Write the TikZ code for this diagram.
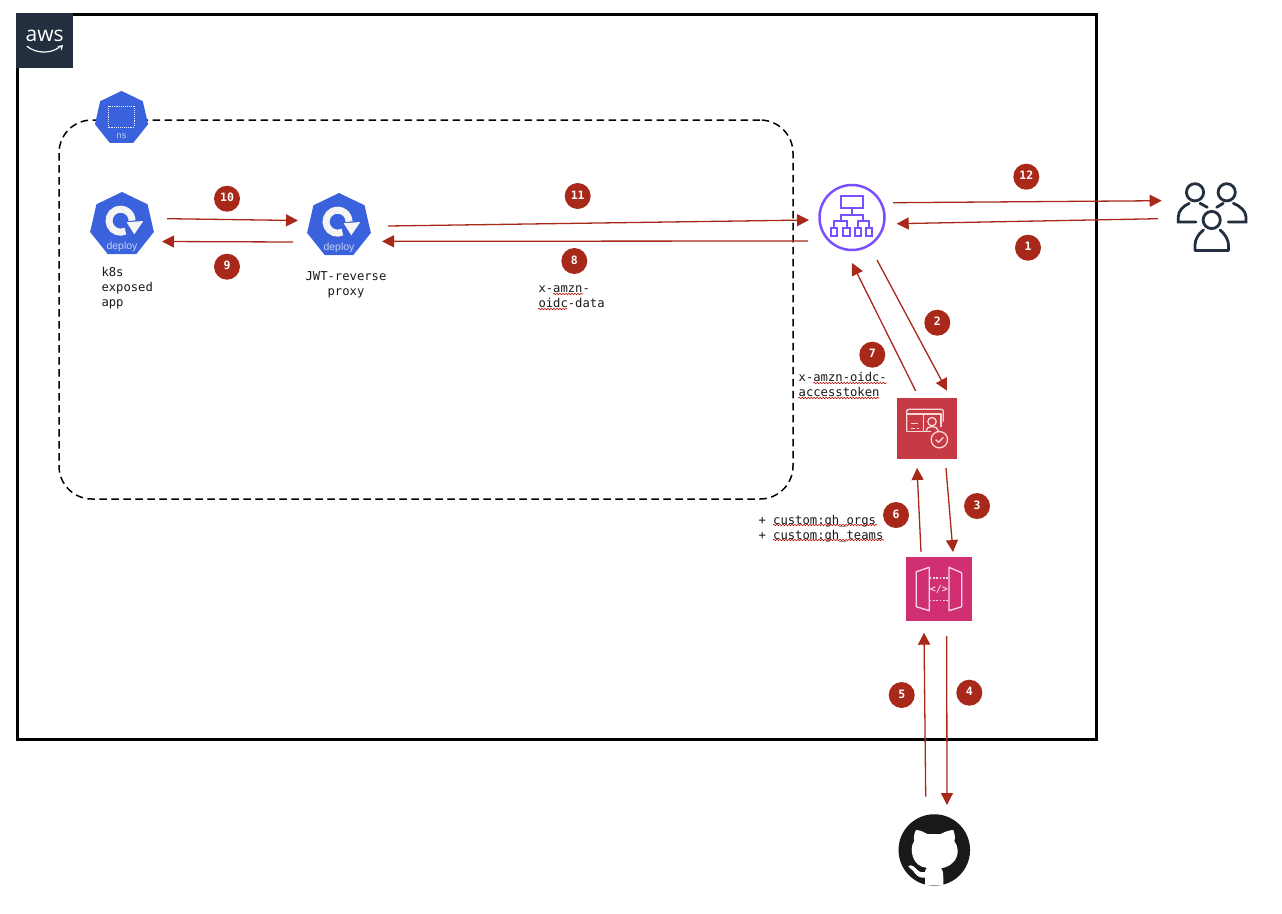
\documentclass[tikz,border=0pt]{standalone}
\usepackage{fontspec}
\setmainfont{Liberation Sans}
\newfontfamily\codefont{DejaVu Sans Mono}
\newfontfamily\logofont{Open Sans}
\usetikzlibrary{arrows.meta,shapes.geometric,decorations.pathmorphing,calc}
\definecolor{flowred}{HTML}{A8281A}
\definecolor{awsdark}{HTML}{232F3E}
\definecolor{k8sblue}{HTML}{3A62DC}
\definecolor{albviolet}{HTML}{7A4FFF}
\definecolor{cogred}{HTML}{C63B43}
\definecolor{cogline}{HTML}{F6D8DA}
\definecolor{apipink}{HTML}{D03072}
\definecolor{apiline}{HTML}{FAD6E8}
\tikzset{
  x=1pt,y=-1pt,
  flow/.style={draw=flowred,line width=1.3pt,-{Triangle[length=12pt,width=12pt]}},
  badge/.style={circle,fill=flowred,minimum size=26pt,inner sep=0pt,text=white,text depth=2pt,font=\codefont\bfseries\fontsize{11.5}{12}\selectfont},
  code/.style={font=\codefont\fontsize{12.2}{15}\selectfont,inner sep=0pt,text=black!90},
  spell/.style={draw=red!75!black,line width=.6pt,decorate,decoration={snake,segment length=3pt,amplitude=.7pt}},
  hept/.style={regular polygon,regular polygon sides=7,fill=k8sblue,inner sep=0pt,outer sep=0pt,draw=none},
  tile/.style={rectangle,inner sep=0pt,outer sep=0pt,draw=none},
  iconline/.style={line width=1.3pt,line join=round},
  usr/.style={draw=awsdark,line width=2.8pt,line cap=round,fill=none},
}
\begin{document}
\begin{tikzpicture}
\useasboundingbox (0,0) rectangle (1282,913);
\fill[white] (0,0) rectangle (1282,913);

% AWS frame
\node[draw=black,line width=3pt,rectangle,inner sep=0pt,minimum width=1079pt,minimum height=725pt] (cloud) at (557,376.9) {};
\node[tile,fill=awsdark,minimum width=57pt,minimum height=55pt] (awstile) at (44.5,40.5) {};
\node[text=white,inner sep=0pt,font=\logofont\fontsize{21}{21}\selectfont] (awslabel) at (44.7,36) {aws};
\draw[white,line width=1.2pt,line cap=round] (27,46.3) .. controls (36,53.5) and (50,54) .. (59,47.5);
\fill[white] (57,46.3) -- (63,45) -- (61.5,50.5) -- (60.5,47.2) -- cycle;

% Namespace
\node[draw=black,line width=1.5pt,dash pattern=on 7.5pt off 4.5pt,rectangle,rounded corners=33pt,inner sep=0pt,minimum width=734pt,minimum height=379pt] (nsbox) at (426,309.5) {};
\node[hept,minimum size=54.5pt] (nsicon) at (121.5,118.2) {};
\draw[white!90!k8sblue,line width=.9pt,densely dotted] (108.7,106) rectangle (134.3,127);
\node[text=white!70!k8sblue,inner sep=0pt,font=\fontsize{9}{9}\selectfont] (nslabel) at (121.5,136) {ns};

% Deployments
\node[hept,minimum size=65.4pt] (app) at (122,224.7) {};
\node[hept,minimum size=65.4pt] (proxy) at (339,225.7) {};
\foreach \n in {app,proxy}{
  \draw[white!91!gray,line width=7pt] ($(\n)+(3.4,6.4)$) arc[start angle=-65,end angle=-360,radius=11.5pt];
  \fill[white!91!gray] ($(\n)+(4.7,-2.4)$) -- ($(\n)+(21.3,-3.7)$) -- ($(\n)+(12.3,9.6)$) -- cycle;
  \node[text=white!72!k8sblue,inner sep=0pt,font=\fontsize{10.4}{11}\selectfont] at ($(\n)+(0,22)$) {deploy};
}
\node[code,align=left,anchor=north west] (applabel) at (101.3,267.3) {k8s\\exposed\\app};
\node[code,align=center,anchor=north] (proxylabel) at (346,271.5) {JWT-reverse\\proxy};

% ALB
\node[circle,draw=albviolet,line width=2.5pt,minimum size=65pt,inner sep=0pt] (alb) at (852,217.5) {};
\begin{scope}[draw=albviolet,line width=2.2pt]
  \draw (840.7,195.7) rectangle (863.3,208.3);
  \draw (852,208.3) -- (852,215);
  \draw (840.7,221) -- (840.7,215) -- (863.3,215) -- (863.3,221);
  \draw (834,228.3) -- (834,221) -- (846.7,221) -- (846.7,228.3);
  \draw (858,228.3) -- (858,221) -- (869,221) -- (869,228.3);
  \draw (830.7,228.3) rectangle (837.3,236);
  \draw (843.3,228.3) rectangle (850,236);
  \draw (855,228.3) rectangle (861.3,236);
  \draw (865.7,228.3) rectangle (872.3,236);
\end{scope}

% Cognito
\node[tile,fill=cogred,minimum width=60pt,minimum height=61pt] (cognito) at (927,428.4) {};
\begin{scope}[shift={(890,390)},x=.3333pt,y=-.3333pt,draw=cogline]
  \draw[iconline,rounded corners=2pt] (50,125) -- (50,58) -- (160,58) -- (160,95);
  \draw[iconline] (50,125) -- (122,125);
  \draw[iconline] (50,72) -- (100,72);
  \draw[iconline] (100,125) -- (100,72) -- (153,72) -- (153,110);
  \draw[iconline] (62,100) -- (85,100) (62,116) -- (75,116) (80,116) -- (86,116);
  \draw[iconline] (126,95) circle[radius=4.2pt];
  \draw[iconline] (108,123) .. controls (108,105) and (145,105) .. (145,123);
  \draw[iconline,fill=cogred] (148,149) circle[radius=8.2pt];
  \draw[iconline] (137,149) -- (146,157) -- (160,142);
\end{scope}

% API Gateway
\node[tile,fill=apipink,minimum width=66pt,minimum height=64pt] (apigw) at (939,589) {};
\draw[apiline,iconline] (916.3,571.7) -- (929.3,567.3) -- (929.3,610.7) -- (916.3,606.7) -- cycle;
\draw[apiline,iconline] (949,567.3) -- (961.7,572.7) -- (961.7,606.7) -- (949,610.7) -- cycle;
\draw[apiline,line width=1.3pt,dash pattern=on 1.8pt off 1.6pt] (929.3,578) -- (949,578) (929.3,600.7) -- (949,600.7);
\node[text=apiline,inner sep=0pt,font=\codefont\fontsize{10}{10}\selectfont\bfseries] (apicode) at (938.8,589) {</>};

% Users
\draw[usr] (1195,192.3) circle[radius=8.6pt];
\draw[usr] (1226.7,192.3) circle[radius=8.6pt];
\draw[usr] (1211.7,220) circle[radius=8.6pt];
\draw[usr] (1189.3,203.3) .. controls (1183,206) and (1178.3,211) .. (1178.3,217) -- (1178.3,222) -- (1196,222);
\draw[usr] (1200,203.3) -- (1207.3,207.3);
\draw[usr] (1223.3,203.3) -- (1216.7,207.3);
\draw[usr] (1233.3,203.3) .. controls (1240,206) and (1246,211) .. (1246,217) -- (1246,222) -- (1228.3,222);
\draw[usr,line join=round] (1203.5,230) .. controls (1198,234) and (1195,240) .. (1195,245) -- (1195,250.5) -- (1228.5,250.5) -- (1228.5,245) .. controls (1228.5,240) and (1225,234) .. (1220,230);

% GitHub
\node[circle,fill=black!90,minimum size=71.5pt,inner sep=0pt] (github) at (934.3,850) {};
\begin{scope}[shift={(890,810)},x=.3333pt,y=-.3333pt]
  \fill[white] (78,60) .. controls (90,60) and (105,68) .. (112,72) -- (152,72)
    .. controls (165,65) and (180,60) .. (190,60)
    .. controls (195,75) and (196,85) .. (193,93)
    .. controls (205,110) and (205,130) .. (200,140)
    .. controls (190,165) and (170,172) .. (153,175)
    .. controls (160,182) and (160,190) .. (160,226) -- (105,226) -- (105,203)
    .. controls (85,205) and (78,195) .. (70,183)
    .. controls (65,177) and (55,172) .. (55,168)
    .. controls (65,162) and (75,172) .. (82,180)
    .. controls (90,188) and (100,188) .. (105,186)
    .. controls (105,180) and (108,175) .. (112,174)
    .. controls (90,172) and (72,160) .. (66,130)
    .. controls (63,110) and (68,100) .. (73,93)
    .. controls (70,85) and (72,70) .. (78,60) -- cycle;
\end{scope}

% Connector end points
\coordinate (a10s) at (167,218.7); \coordinate (a10e) at (298,220.5);
\coordinate (a9s) at (293,242);    \coordinate (a9e) at (162,241.5);
\coordinate (a11s) at (388,226);   \coordinate (a11e) at (809,220);
\coordinate (a8s) at (808,241);    \coordinate (a8e) at (382,241.3);
\coordinate (a12s) at (893,202.7); \coordinate (a12e) at (1161.7,200.7);
\coordinate (a1s) at (1158,218.7); \coordinate (a1e) at (896.7,223.7);
\coordinate (a2s) at (877,260);    \coordinate (a2e) at (947,390.7);
\coordinate (a7s) at (915.7,391);  \coordinate (a7e) at (852,263);
\coordinate (a3s) at (946,468);    \coordinate (a3e) at (953,552);
\coordinate (a6s) at (921,552);    \coordinate (a6e) at (917,468);
\coordinate (a5s) at (925.7,796.7);\coordinate (a5e) at (924,632.7);
\coordinate (a4s) at (946.7,636);  \coordinate (a4e) at (947,805);

\foreach \a in {1,...,12}{ \draw[flow] (a\a s) -- (a\a e); }

% Badges
\node[badge] (b10) at (227,198.7) {10};
\node[badge] (b9) at (227,266.7) {9};
\node[badge] (b11) at (577.7,196) {11};
\node[badge] (b8) at (574.3,261) {8};
\node[badge] (b12) at (1026.3,176.7) {12};
\node[badge] (b1) at (1028,247.7) {1};
\node[badge] (b2) at (937.3,322.7) {2};
\node[badge] (b7) at (872.3,354.7) {7};
\node[badge] (b3) at (977,506) {3};
\node[badge] (b6) at (896,515) {6};
\node[badge] (b5) at (901.7,695) {5};
\node[badge] (b4) at (969.3,692.7) {4};

% Labels
\node[code,align=left,anchor=north west] (oidcdata) at (538.3,285.7) {x-amzn-\\oidc-data};
\node[code,align=left,anchor=north west] (accesstoken) at (798.5,372.4) {x-amzn-oidc-\\accesstoken};
\node[code,align=left,anchor=north west] (custom) at (758.3,515.2) {+ custom:gh\_orgs\\+ custom:gh\_teams};

% Spell-check underlines
\draw[spell] (553,294) -- (583,294);
\draw[spell] (538,309) -- (567,309);
\draw[spell] (813.3,383) -- (886.7,383);
\draw[spell] (798.3,398) -- (879.3,398);
\draw[spell] (773,525) -- (877,525);
\draw[spell] (773,540) -- (884,540);
\end{tikzpicture}
\end{document}
